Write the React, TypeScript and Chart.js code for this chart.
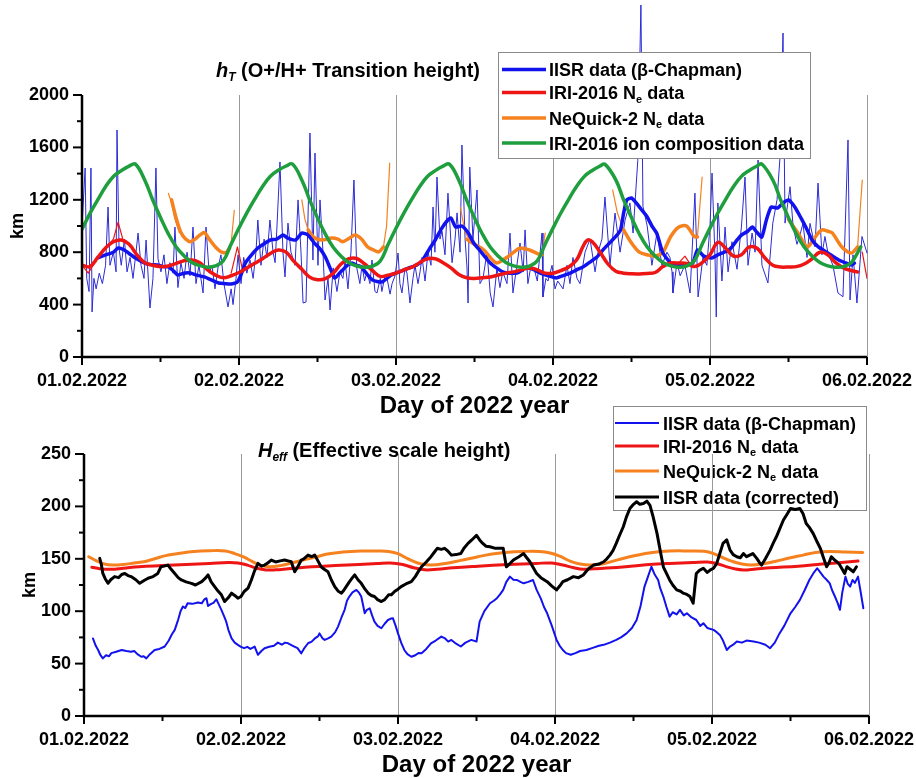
import React, { useEffect, useRef } from 'react';
import { Chart, registerables } from 'chart.js';

Chart.register(...registerables);

const FONT = '"Liberation Sans", Arial, Helvetica, sans-serif';

const dayLabels = ['01.02.2022', '02.02.2022', '03.02.2022', '04.02.2022', '05.02.2022', '06.02.2022'];

type P = [number, number | null];

// ---------- TOP PANEL: hT (km) ----------
const topIisrRaw: P[] = [
  [0.00,1000],[0.02,1443],[0.03,600],[0.045,500],[0.057,1443],[0.064,344],[0.076,600],[0.09,520],[0.11,640],[0.13,560],[0.15,700],[0.166,1145],[0.178,700],[0.20,800],[0.217,650],[0.223,1733],[0.236,830],[0.25,700],[0.27,900],[0.287,650],[0.306,760],[0.325,600],[0.344,800],[0.357,946],[0.376,700],[0.395,600],[0.408,893],[0.433,374],[0.452,600],[0.471,1443],[0.484,750],[0.503,650],[0.522,780],[0.541,560],[0.56,720],[0.58,640],[0.592,992],[0.611,530],[0.63,720],[0.65,600],[0.669,800],[0.688,620],[0.707,992],[0.726,560],[0.745,700],[0.771,489],[0.79,992],[0.81,640],[0.828,700],[0.847,520],[0.866,680],[0.885,780],[0.904,560],[0.93,382],[0.95,520],[0.962,400],[0.981,600],[0.994,780],
  [1.013,560],[1.03,760],[1.05,640],[1.07,740],[1.09,600],[1.108,800],[1.12,1046],[1.14,700],[1.16,900],[1.178,760],[1.197,1046],[1.217,800],[1.23,720],[1.242,1000],[1.261,1489],[1.28,800],[1.293,611],[1.312,1022],[1.331,800],[1.357,700],[1.376,1199],[1.395,800],[1.408,412],[1.427,420],[1.452,1710],[1.471,740],[1.484,1557],[1.503,700],[1.516,1199],[1.535,800],[1.548,435],[1.567,600],[1.58,359],[1.60,680],[1.624,500],[1.643,650],[1.662,600],[1.675,740],[1.694,520],[1.713,800],[1.732,1351],[1.75,680],[1.77,560],[1.783,700],[1.80,580],[1.815,650],[1.834,560],[1.847,740],[1.866,500],[1.879,489],[1.90,600],[1.91,500],[1.93,620],[1.943,600],[1.962,480],[1.975,560],[1.994,620],
  [2.013,794],[2.025,560],[2.038,489],[2.057,680],[2.07,640],[2.089,412],[2.108,600],[2.121,700],[2.14,560],[2.153,650],[2.166,760],[2.185,580],[2.204,800],[2.223,700],[2.236,1145],[2.248,800],[2.261,1374],[2.28,900],[2.293,960],[2.312,780],[2.331,1251],[2.344,1000],[2.357,720],[2.376,900],[2.389,1100],[2.408,800],[2.42,1618],[2.44,900],[2.452,687],[2.459,412],[2.47,1450],[2.49,900],[2.516,1275],[2.535,560],[2.554,600],[2.58,800],[2.60,489],[2.618,382],[2.643,680],[2.662,530],[2.68,650],[2.707,560],[2.726,946],[2.745,489],[2.77,700],[2.79,870],[2.81,650],[2.822,970],[2.84,560],[2.86,700],[2.885,650],[2.90,580],[2.93,946],[2.936,458],[2.955,600],[2.968,580],[2.994,700],
  [3.013,520],[3.03,580],[3.064,520],[3.089,700],[3.108,560],[3.127,760],[3.153,600],[3.172,560],[3.204,800],[3.236,900],[3.268,650],[3.287,800],[3.312,900],[3.331,1221],[3.363,700],[3.395,1099],[3.427,800],[3.459,1046],[3.49,1176],[3.51,946],[3.54,1500],[3.56,2687],[3.573,1150],[3.60,1000],[3.63,700],[3.662,946],[3.694,700],[3.726,800],[3.745,760],[3.758,650],[3.764,489],[3.79,720],[3.81,620],[3.84,700],[3.873,489],[3.904,1251],[3.924,458],[3.955,760],[3.98,700],
  [4.00,1000],[4.013,1404],[4.032,760],[4.04,305],[4.05,1176],[4.076,580],[4.096,992],[4.115,650],[4.14,880],[4.172,670],[4.20,992],[4.223,1374],[4.242,700],[4.268,946],[4.287,800],[4.306,1504],[4.331,700],[4.369,565],[4.40,1022],[4.427,1200],[4.446,1527],[4.465,2473],[4.478,1022],[4.51,1300],[4.529,1000],[4.554,860],[4.573,930],[4.592,1020],[4.618,760],[4.637,1020],[4.669,840],[4.688,1328],[4.713,780],[4.732,920],[4.752,790],[4.783,700],[4.815,489],[4.847,460],[4.879,1657],[4.892,435],[4.911,780],[4.936,412],[4.968,920],[5.00,794],
];

const topIisrSmooth: P[] = [
  [0.10,756],[0.15,779],[0.20,800],[0.23,832],[0.27,817],[0.30,790],[0.34,756],[0.40,717],[0.44,705],[0.48,702],[0.52,690],[0.55,687],[0.58,660],[0.61,626],[0.65,640],[0.69,641],[0.73,625],[0.78,611],[0.82,590],[0.87,565],[0.91,560],[0.95,557],[0.99,573],
  [1.02,650],[1.04,717],[1.08,780],[1.12,832],[1.16,865],[1.20,893],[1.24,900],[1.28,931],[1.31,908],[1.36,893],[1.40,946],[1.44,931],[1.48,870],[1.52,820],[1.55,763],[1.58,680],[1.61,603],[1.64,640],[1.66,664],[1.69,700],[1.72,717],[1.75,700],[1.78,687],[1.81,640],[1.85,588],[1.91,573],[1.97,626],
  [2.02,650],[2.08,679],[2.13,700],[2.17,740],[2.21,820],[2.25,893],[2.29,980],[2.33,1046],[2.35,1061],[2.38,992],[2.42,1000],[2.46,946],[2.50,860],[2.53,820],[2.57,760],[2.60,717],[2.64,680],[2.68,649],[2.72,640],[2.77,641],[2.80,660],[2.83,687],[2.87,670],[2.92,641],[2.97,620],
  [3.02,603],[3.06,620],[3.11,641],[3.15,665],[3.19,687],[3.23,720],[3.28,763],[3.32,820],[3.36,870],[3.40,920],[3.43,970],[3.45,1100],[3.47,1199],[3.50,1214],[3.53,1176],[3.56,1130],[3.60,1069],[3.63,1000],[3.66,946],[3.68,870],[3.70,794],[3.75,717],[3.80,702],[3.85,710],[3.89,717],[3.92,817],[3.96,770],
  [4.01,756],[4.05,780],[4.08,794],[4.11,810],[4.14,840],[4.17,890],[4.20,931],[4.24,960],[4.27,992],[4.30,950],[4.33,916],[4.36,1050],[4.39,1145],[4.43,1137],[4.47,1180],[4.50,1199],[4.54,1145],[4.58,1060],[4.61,992],[4.65,893],[4.69,840],[4.75,794],[4.82,740],[4.86,720],[4.90,702],[4.92,717],
];

const topIriNe: P[] = [
  [0.00,700],[0.05,690],[0.10,760],[0.15,832],[0.20,880],[0.25,893],[0.30,860],[0.35,780],[0.40,720],[0.45,700],[0.50,690],[0.55,695],[0.60,715],[0.65,735],[0.70,740],[0.75,720],[0.80,665],[0.85,625],[0.90,605],[0.95,620],
  [1.00,645],[1.05,680],[1.10,715],[1.15,750],[1.20,790],[1.25,817],[1.30,800],[1.35,730],[1.40,670],[1.45,610],[1.50,590],[1.55,598],[1.60,640],[1.65,710],[1.70,750],[1.75,752],[1.80,710],[1.85,660],[1.90,615],[1.95,625],
  [2.00,640],[2.05,665],[2.10,685],[2.15,720],[2.20,750],[2.25,750],[2.30,720],[2.35,680],[2.40,630],[2.45,605],[2.50,600],[2.55,605],[2.60,611],[2.65,625],[2.70,640],[2.75,650],[2.80,665],[2.85,680],[2.90,665],[2.95,640],
  [3.00,640],[3.05,660],[3.10,687],[3.15,740],[3.19,840],[3.22,893],[3.25,880],[3.30,800],[3.35,710],[3.40,655],[3.45,640],[3.50,635],[3.55,634],[3.60,638],[3.65,645],[3.70,690],[3.75,717],[3.80,717],[3.85,715],[3.90,690],[3.95,720],
  [4.00,780],[4.05,875],[4.10,830],[4.15,770],[4.20,780],[4.25,840],[4.30,830],[4.35,756],[4.40,700],[4.45,687],[4.50,687],[4.55,690],[4.60,710],[4.65,750],[4.70,800],[4.75,780],[4.80,720],[4.85,680],[4.90,660],[4.94,649],
];

const topIriNeThin: P[] = [
  [0.00,700],[0.04,640],[0.08,720],[0.15,830],[0.20,900],[0.23,1030],[0.26,900],[0.30,860],[0.31,null],
  [0.95,640],[0.99,840],[1.02,680],[1.03,null],
  [3.80,717],[3.84,770],[3.88,700],[3.89,null],
  [4.97,800],[4.985,700],[5.00,600],
];

const topNeQuick: P[] = [
  [0.57,1200],[0.60,1060],[0.63,950],[0.66,900],[0.69,880],[0.72,900],[0.75,930],[0.78,950],[0.81,900],[0.85,840],[0.89,800],[0.92,800],[0.94,830],[0.95,null],
  [1.44,970],[1.48,910],[1.53,893],[1.59,908],[1.63,900],[1.66,880],[1.70,905],[1.74,931],[1.78,900],[1.82,840],[1.86,815],[1.89,802],[1.92,840],[1.93,null],
  [2.45,900],[2.50,860],[2.56,817],[2.60,760],[2.64,717],[2.68,740],[2.71,763],[2.75,800],[2.79,832],[2.85,817],[2.90,790],[2.93,780],[2.94,null],
  [3.45,970],[3.50,870],[3.55,800],[3.60,780],[3.65,770],[3.70,800],[3.75,920],[3.80,990],[3.85,1000],[3.90,920],[3.92,916],[3.93,null],
  [4.50,1050],[4.56,946],[4.62,840],[4.66,900],[4.71,970],[4.75,960],[4.78,946],[4.84,840],[4.90,794],[4.94,840],
];

const topNeQuickThin: P[] = [
  [0.55,1250],[0.57,1180],[0.59,1060],[0.62,950],[0.625,null],
  [0.92,810],[0.95,870],[0.97,1120],[0.975,null],
  [1.40,1199],[1.42,1050],[1.44,970],[1.445,null],
  [1.92,840],[1.94,1000],[1.96,1480],[1.965,null],
  [2.41,1145],[2.44,950],[2.47,893],[2.475,null],
  [2.93,780],[2.95,946],[2.955,null],
  [3.38,1275],[3.41,1100],[3.45,970],[3.455,null],
  [3.92,916],[3.95,1374],[3.955,null],
  [4.43,1275],[4.48,1099],[4.52,1000],[4.525,null],
  [4.94,840],[4.97,1351],
];

const topIriIon: P[] = [
  [0.00,975],[0.05,1095],[0.10,1200],[0.15,1300],[0.20,1378],[0.25,1422],[0.30,1457],[0.34,1472],[0.40,1350],[0.45,1200],[0.50,1065],[0.55,940],[0.60,840],[0.65,772],[0.70,722],[0.75,697],[0.80,686],[0.85,695],[0.90,735],[0.95,862],
  [1.00,985],[1.05,1100],[1.10,1205],[1.15,1302],[1.20,1380],[1.25,1425],[1.30,1458],[1.34,1473],[1.40,1352],[1.45,1200],[1.50,1062],[1.55,938],[1.60,838],[1.65,770],[1.70,720],[1.75,695],[1.80,685],[1.85,693],[1.90,733],[1.95,860],
  [2.00,983],[2.05,1098],[2.10,1203],[2.15,1300],[2.20,1378],[2.25,1423],[2.30,1457],[2.34,1472],[2.40,1350],[2.45,1198],[2.50,1063],[2.55,939],[2.60,839],[2.65,771],[2.70,721],[2.75,696],[2.80,686],[2.85,694],[2.90,734],[2.95,861],
  [3.00,984],[3.05,1099],[3.10,1204],[3.15,1301],[3.20,1379],[3.25,1424],[3.30,1458],[3.33,1472],[3.40,1352],[3.45,1199],[3.50,1064],[3.55,939],[3.60,839],[3.65,771],[3.70,721],[3.75,696],[3.80,686],[3.85,694],[3.90,734],[3.95,861],
  [4.00,984],[4.05,1099],[4.10,1204],[4.15,1301],[4.20,1379],[4.25,1424],[4.30,1458],[4.33,1473],[4.40,1351],[4.45,1199],[4.50,1064],[4.55,939],[4.60,839],[4.65,771],[4.70,721],[4.75,696],[4.80,686],[4.85,690],[4.90,720],[4.96,840],
];

// ---------- BOTTOM PANEL: Heff (km) ----------
const botIisr: P[] = [
  [0.057,74],[0.075,67],[0.09,63],[0.105,58],[0.12,55],[0.14,58],[0.16,57],[0.174,60],[0.20,61],[0.22,62],[0.24,63],[0.27,62],[0.30,61.3],[0.32,62],[0.34,59],[0.365,56.5],[0.38,57],[0.397,55],[0.42,59],[0.45,63],[0.48,64],[0.514,66.3],[0.54,72],[0.56,78],[0.578,82.2],[0.60,92],[0.615,100],[0.63,104.5],[0.645,103],[0.66,107.6],[0.69,107],[0.726,108.3],[0.75,107.5],[0.765,111],[0.78,112.4],[0.79,105],[0.81,107],[0.825,108],[0.843,111.4],[0.86,106],[0.875,101.3],[0.89,96],[0.906,90],[0.92,82],[0.94,74],[0.96,70],[0.98,67.9],
  [1.00,66],[1.02,64.7],[1.04,66],[1.06,64],[1.087,66.3],[1.108,58.4],[1.13,62],[1.15,64.7],[1.18,66],[1.21,67],[1.235,70],[1.26,68],[1.28,70],[1.30,69.4],[1.33,67],[1.36,64.7],[1.384,59.8],[1.40,64],[1.427,69.4],[1.45,71],[1.47,74],[1.49,76],[1.50,78.8],[1.52,74],[1.533,72.6],[1.555,74],[1.575,75.8],[1.60,80],[1.618,85.3],[1.64,94],[1.66,101.3],[1.675,110],[1.69,114],[1.71,118],[1.735,120.3],[1.75,118],[1.766,114],[1.78,104],[1.788,98],[1.80,101],[1.82,102.8],[1.835,96],[1.85,90],[1.87,86],[1.894,83.7],[1.915,88],[1.936,91.6],[1.955,93],[1.968,93.2],[1.985,86],
  [2.00,78.8],[2.02,70],[2.04,63],[2.06,59],[2.085,56.5],[2.11,58],[2.13,60],[2.15,59.8],[2.18,64],[2.21,69.4],[2.24,72],[2.276,75.8],[2.30,74],[2.32,71],[2.34,72.6],[2.37,69],[2.40,66.3],[2.43,70],[2.467,72.6],[2.50,71],[2.52,90],[2.55,100],[2.586,107.6],[2.61,110],[2.63,112.4],[2.65,116],[2.67,120.3],[2.69,128],[2.713,133],[2.735,130],[2.756,129.8],[2.78,128],[2.80,126.6],[2.83,128],[2.86,129.8],[2.883,120.3],[2.91,112],[2.93,104],[2.95,98],[2.98,86],
  [3.01,72.6],[3.03,67],[3.05,63],[3.07,60],[3.10,58.4],[3.13,60],[3.16,62],[3.20,63],[3.24,65],[3.28,67],[3.31,67.9],[3.35,70],[3.39,72.6],[3.42,75],[3.456,78.8],[3.49,84],[3.52,91.6],[3.545,105],[3.57,123.5],[3.59,132],[3.614,142.4],[3.635,135],[3.657,129.8],[3.67,122],[3.69,114],[3.71,104],[3.73,94.8],[3.75,99],[3.775,97],[3.796,101.3],[3.82,96],[3.84,98],[3.87,94],[3.90,91.6],[3.925,86],[3.945,88.5],[3.97,84],
  [4.01,82.2],[4.03,80],[4.05,77.4],[4.07,72],[4.094,63],[4.115,66.3],[4.135,68],[4.158,71],[4.19,70],[4.22,72],[4.265,71],[4.30,70],[4.34,68],[4.37,64.7],[4.40,70],[4.43,78.8],[4.46,86],[4.50,98],[4.53,104],[4.56,110.8],[4.59,120],[4.62,129.8],[4.645,136],[4.67,141],[4.69,137],[4.71,133],[4.73,130],[4.75,126.6],[4.765,120],[4.783,114],[4.80,108],[4.815,101.3],[4.83,118],[4.85,133],[4.865,126],[4.88,123.5],[4.895,129.8],[4.91,127],[4.93,133],[4.945,120],[4.964,102.8],
];

const botIriNe: P[] = [
  [0.05,142],[0.10,140.5],[0.17,140],[0.25,141],[0.35,142.5],[0.50,143.5],[0.65,144.5],[0.80,145.5],[0.92,146.5],[0.98,146],[1.04,144],[1.10,141],[1.16,139.4],[1.22,139.5],[1.30,140.5],[1.45,142.4],[1.60,143.5],[1.75,144.5],[1.87,145.5],[1.95,146],[2.03,144.5],[2.10,141.5],[2.17,139.5],[2.25,140],[2.35,141.5],[2.51,143],[2.70,144.5],[2.88,145.6],[2.98,146],[3.05,144],[3.12,141.5],[3.18,140],[3.25,140.5],[3.31,141],[3.45,142.5],[3.60,144.5],[3.73,145.6],[3.88,146.5],[3.97,147],[4.03,145.5],[4.09,142.5],[4.15,140.2],[4.20,139.4],[4.28,140.3],[4.37,141.4],[4.55,143],[4.70,145],[4.79,146],[4.93,147.8],
];

const botNeQuick: P[] = [
  [0.03,152],[0.08,148],[0.13,145],[0.18,144],[0.25,144.5],[0.32,146],[0.39,147.5],[0.45,150],[0.52,153],[0.60,155],[0.70,157],[0.80,157.7],[0.90,157.5],[0.96,155],[1.02,151.5],[1.07,147.5],[1.12,144],[1.18,142.5],[1.25,143.5],[1.32,146],[1.40,149],[1.47,151.5],[1.55,154.5],[1.65,156.5],[1.77,157.4],[1.88,157.4],[1.94,157],[2.00,155],[2.05,151],[2.10,147.5],[2.15,145],[2.21,144],[2.30,145.5],[2.40,148.5],[2.51,152],[2.60,154.5],[2.70,156.3],[2.80,157],[2.90,157],[2.97,155.5],[3.03,152.5],[3.10,147.5],[3.16,145],[3.22,144],[3.30,145],[3.40,149],[3.52,153.3],[3.62,156],[3.73,157.4],[3.85,157.5],[3.95,157.2],[4.01,155],[4.07,151],[4.13,147.5],[4.19,145],[4.25,144],[4.32,145],[4.40,147.5],[4.50,151],[4.58,153.5],[4.66,156],[4.75,157],[4.85,156.5],[4.96,156],
];

const botIisrCorr: P[] = [
  [0.10,150.4],[0.11,145],[0.12,136],[0.135,131],[0.153,126.6],[0.17,130],[0.195,133],[0.22,132],[0.24,135],[0.26,136],[0.28,134],[0.30,133],[0.33,130],[0.355,126.6],[0.38,129],[0.408,131.4],[0.44,133],[0.47,136],[0.49,142.4],[0.51,143],[0.535,144],[0.555,140],[0.578,136],[0.60,132],[0.62,129.8],[0.65,128],[0.684,126.6],[0.71,125],[0.75,128.2],[0.77,131],[0.79,134.6],[0.81,128],[0.832,123.5],[0.855,119],[0.875,115.6],[0.896,109.2],[0.92,113],[0.94,117.2],[0.96,115],[0.98,112.4],
  [1.00,114],[1.02,118.8],[1.045,122],[1.066,129.8],[1.085,138],[1.108,145.6],[1.13,143],[1.15,144],[1.17,146],[1.193,148.8],[1.22,147],[1.25,148],[1.278,148.8],[1.30,148],[1.32,147.2],[1.342,137.6],[1.36,142],[1.384,148.8],[1.40,150],[1.427,153.5],[1.45,152],[1.47,153.5],[1.49,148],[1.51,142.4],[1.53,140],[1.554,137.6],[1.575,130],[1.597,123.5],[1.62,119],[1.64,117.2],[1.655,120],[1.67,123.5],[1.69,128],[1.71,132],[1.724,134.6],[1.745,130],[1.766,126.6],[1.79,121],[1.81,117.2],[1.83,115],[1.85,114],[1.87,111],[1.894,109.2],[1.915,111],[1.94,115.6],[1.957,115.6],[1.98,119],
  [2.00,121],[2.02,123.5],[2.05,126],[2.085,128.2],[2.11,133],[2.13,138],[2.15,142.4],[2.18,147],[2.21,152],[2.23,156],[2.25,160],[2.275,159],[2.297,160],[2.32,157],[2.34,153.5],[2.37,154],[2.40,155],[2.42,160],[2.446,164.7],[2.47,168],[2.50,172.5],[2.52,168],[2.54,164.7],[2.56,162],[2.586,161.5],[2.62,160],[2.67,160],[2.69,142.4],[2.71,145],[2.735,148.8],[2.77,152],[2.80,155],[2.82,151],[2.84,147.2],[2.86,142],[2.883,136],[2.91,132],[2.95,128.2],[2.98,124],
  [3.01,120.3],[3.03,124],[3.05,128.2],[3.08,130],[3.117,133],[3.15,132],[3.18,134.6],[3.21,140],[3.245,144],[3.28,145],[3.31,147.2],[3.33,150],[3.35,153.5],[3.37,158],[3.39,164.7],[3.41,172],[3.435,180.6],[3.455,190],[3.477,198],[3.50,202],[3.52,204.4],[3.54,202],[3.563,202.8],[3.585,205],[3.605,201],[3.625,190],[3.65,174],[3.67,158],[3.69,142.4],[3.71,136],[3.73,129.8],[3.75,125],[3.775,120.3],[3.80,119],[3.817,117.2],[3.84,116],[3.86,114],[3.88,107.6],[3.89,122],[3.90,136],[3.92,139],[3.945,141],[3.97,137],[3.99,139.4],
  [4.01,141],[4.03,145.6],[4.05,155],[4.07,164.7],[4.094,168],[4.115,158.3],[4.135,154],[4.158,152],[4.18,151],[4.20,155],[4.22,152],[4.24,153.5],[4.26,155],[4.285,150.4],[4.30,147],[4.316,144],[4.34,150],[4.37,158.3],[4.39,165],[4.41,171],[4.43,178],[4.455,187],[4.48,193],[4.50,198],[4.53,197],[4.56,198],[4.58,193],[4.60,183.7],[4.62,180],[4.645,174],[4.67,166],[4.69,160],[4.71,151],[4.73,142.4],[4.745,146],[4.76,152],[4.78,149],[4.795,147.2],[4.81,145],[4.826,141],[4.845,136],[4.86,142.4],[4.88,140],[4.90,137.6],[4.92,142.4],
];

// ---------- styling ----------
const C_BLUE = '#1212ee';
const C_BLUE_THIN = '#2b2bd6';
const C_RED = '#ee1515';
const C_ORANGE = '#f5821f';
const C_GREEN = '#1f9e3e';
const C_BLACK = '#000000';

type TextPart = { t: string; sub?: boolean; italic?: boolean };
type LegendItem = { color: string; width: number; parts: TextPart[] };

type DecorCfg = {
  yMajor: number;
  yMinor: number;
  title: { x: number; y: number; parts: TextPart[] };
  km: { x: number; y: number };
  xTitleY: number;
  legendBehind: boolean;
  legend: { x1: number; y1: number; x2: number; y2: number; lx1: number; lx2: number; tx: number; rows: number[]; items: LegendItem[] };
};

function drawParts(ctx: CanvasRenderingContext2D, parts: TextPart[], x: number, y: number, size: number) {
  let cx = x;
  ctx.textAlign = 'left';
  ctx.textBaseline = 'alphabetic';
  for (const p of parts) {
    const fs = p.sub ? Math.round(size * 0.62) : size;
    ctx.font = `${p.italic ? 'italic ' : ''}bold ${fs}px ${FONT}`;
    const dy = p.sub ? size * 0.22 : 0;
    ctx.fillText(p.t, cx, y + dy);
    cx += ctx.measureText(p.t).width;
  }
}

function drawLegend(ctx: CanvasRenderingContext2D, lg: DecorCfg['legend']) {
  ctx.save();
  ctx.fillStyle = '#fff';
  ctx.fillRect(lg.x1, lg.y1, lg.x2 - lg.x1, lg.y2 - lg.y1);
  ctx.strokeStyle = '#8a8a8a';
  ctx.lineWidth = 1;
  ctx.strokeRect(lg.x1 + 0.5, lg.y1 + 0.5, lg.x2 - lg.x1, lg.y2 - lg.y1);
  lg.items.forEach((it, i) => {
    const y = lg.rows[i];
    ctx.strokeStyle = it.color;
    ctx.lineWidth = it.width;
    ctx.beginPath();
    ctx.moveTo(lg.lx1, y);
    ctx.lineTo(lg.lx2, y);
    ctx.stroke();
    ctx.fillStyle = '#000';
    drawParts(ctx, it.parts, lg.tx, y + 6.5, 18);
  });
  ctx.restore();
}

function makeDecor(cfg: DecorCfg) {
  return {
    id: 'decor',
    beforeDatasetsDraw(chart: any) {
      const ctx: CanvasRenderingContext2D = chart.ctx;
      const { top, bottom } = chart.chartArea;
      const xs = chart.scales.x;
      if (cfg.legendBehind) drawLegend(ctx, cfg.legend);
      ctx.save();
      ctx.strokeStyle = '#9a9a9a';
      ctx.lineWidth = 1;
      for (let d = 1; d <= 5; d++) {
        const px = Math.round(xs.getPixelForValue(d)) + 0.5;
        ctx.beginPath();
        ctx.moveTo(px, top);
        ctx.lineTo(px, bottom);
        ctx.stroke();
      }
      ctx.restore();
    },
    afterDatasetsDraw(chart: any) {
      const ctx: CanvasRenderingContext2D = chart.ctx;
      const { left, right, top, bottom } = chart.chartArea;
      const xs = chart.scales.x;
      const ys = chart.scales.y;
      ctx.save();
      ctx.strokeStyle = '#000';
      ctx.lineWidth = 2.5;
      ctx.lineJoin = 'miter';
      ctx.beginPath();
      ctx.moveTo(left, top);
      ctx.lineTo(left, bottom);
      ctx.lineTo(right, bottom);
      ctx.stroke();
      ctx.lineWidth = 2;
      const nY = Math.round(ys.max / cfg.yMinor);
      for (let i = 0; i <= nY; i++) {
        const v = i * cfg.yMinor;
        const py = ys.getPixelForValue(v);
        const major = Math.abs(v / cfg.yMajor - Math.round(v / cfg.yMajor)) < 1e-6;
        const len = major ? 9 : 5;
        ctx.beginPath();
        ctx.moveTo(left - len, py);
        ctx.lineTo(left, py);
        ctx.stroke();
      }
      for (let i = 0; i <= 10; i++) {
        const v = i * 0.5;
        const px = xs.getPixelForValue(v);
        const len = i % 2 === 0 ? 8 : 5;
        ctx.beginPath();
        ctx.moveTo(px, bottom);
        ctx.lineTo(px, bottom + len);
        ctx.stroke();
      }
      ctx.fillStyle = '#000';
      drawParts(ctx, cfg.title.parts, cfg.title.x, cfg.title.y, 20);
      ctx.font = `bold 24px ${FONT}`;
      ctx.textAlign = 'center';
      ctx.textBaseline = 'alphabetic';
      ctx.fillText('Day of 2022 year', (left + right) / 2, cfg.xTitleY);
      ctx.save();
      ctx.translate(cfg.km.x, cfg.km.y);
      ctx.rotate(-Math.PI / 2);
      ctx.font = `bold 18px ${FONT}`;
      ctx.textAlign = 'center';
      ctx.textBaseline = 'alphabetic';
      ctx.fillText('km', 0, 0);
      ctx.restore();
      ctx.restore();
      if (!cfg.legendBehind) drawLegend(ctx, cfg.legend);
    },
  };
}

const toXY = (arr: P[]) => arr.map(([x, y]) => ({ x, y }));

function line(data: P[], color: string, width: number, tension: number, extra: any = {}) {
  return {
    data: toXY(data),
    borderColor: color,
    backgroundColor: color,
    borderWidth: width,
    pointRadius: 0,
    tension,
    fill: false,
    spanGaps: false,
    borderJoinStyle: 'round',
    borderCapStyle: 'round',
    ...extra,
  };
}

function baseOptions(yMax: number, yStep: number, yWidth: number, xHeight: number, padTop: number, padRight: number) {
  const tickFont = { family: FONT, size: 18, weight: 'bold' as const };
  return {
    animation: false,
    responsive: false,
    devicePixelRatio: 1,
    layout: { padding: { left: 0, top: padTop, right: padRight, bottom: 0 } },
    plugins: { legend: { display: false }, tooltip: { enabled: false }, title: { display: false } },
    events: [],
    scales: {
      x: {
        type: 'linear',
        min: 0,
        max: 5,
        afterFit: (s: any) => { s.height = xHeight; s.paddingLeft = 0; s.paddingRight = 0; },
        grid: { display: false, drawTicks: false },
        border: { display: false },
        ticks: {
          stepSize: 1,
          autoSkip: false,
          maxRotation: 0,
          minRotation: 0,
          padding: 13,
          color: '#000',
          font: tickFont,
          callback: (v: any) => dayLabels[Math.round(Number(v))] ?? '',
        },
      },
      y: {
        type: 'linear',
        min: 0,
        max: yMax,
        afterFit: (s: any) => { s.width = yWidth; s.paddingTop = 0; s.paddingBottom = 0; },
        grid: { display: false, drawTicks: false },
        border: { display: false },
        ticks: {
          stepSize: yStep,
          padding: 13,
          color: '#000',
          font: tickFont,
          callback: (v: any) => String(v),
        },
      },
    },
  };
}

const neParts = (name: string): TextPart[] => [{ t: name + ' N' }, { t: 'e', sub: true }, { t: ' data' }];

export default function App() {
  const topRef = useRef<HTMLCanvasElement>(null);
  const botRef = useRef<HTMLCanvasElement>(null);

  useEffect(() => {
    const topDecor = makeDecor({
      yMajor: 400,
      yMinor: 200,
      title: { x: 216, y: 77, parts: [{ t: 'h', italic: true }, { t: 'T', italic: true, sub: true }, { t: ' (O+/H+ Transition height)' }] },
      km: { x: 23, y: 226 },
      xTitleY: 413,
      legendBehind: false,
      legend: {
        x1: 498, y1: 52, x2: 810, y2: 158, lx1: 502, lx2: 546, tx: 549,
        rows: [69.5, 92.5, 118, 143],
        items: [
          { color: C_BLUE, width: 3.5, parts: [{ t: 'IISR data (β-Chapman)' }] },
          { color: C_RED, width: 3.5, parts: neParts('IRI-2016') },
          { color: C_ORANGE, width: 3.5, parts: neParts('NeQuick-2') },
          { color: C_GREEN, width: 3.5, parts: [{ t: 'IRI-2016 ion composition data' }] },
        ],
      },
    });

    const c1 = new Chart(topRef.current as HTMLCanvasElement, {
      type: 'line',
      data: {
        datasets: [
          line(topIriIon, C_GREEN, 3.5, 0.4),
          line(topIriNe, C_RED, 3.5, 0.4),
          line(topIisrSmooth, C_BLUE, 3.5, 0.2),
          line(topNeQuick, C_ORANGE, 3.5, 0.3),
          line(topNeQuickThin, C_ORANGE, 1.2, 0),
          line(topIriNeThin, C_RED, 1.2, 0),
          line(topIisrRaw, C_BLUE_THIN, 1, 0, { clip: false }),
        ] as any,
      },
      options: baseOptions(2000, 400, 82, 63, 95, 49) as any,
      plugins: [topDecor as any],
    });

    const botDecor = makeDecor({
      yMajor: 50,
      yMinor: 25,
      title: { x: 258, y: 67, parts: [{ t: 'H', italic: true }, { t: 'eff', italic: true, sub: true }, { t: ' (Effective scale height)' }] },
      km: { x: 35, y: 195 },
      xTitleY: 382,
      legendBehind: true,
      legend: {
        x1: 613, y1: 16, x2: 866, y2: 120, lx1: 615, lx2: 659, tx: 663,
        rows: [33, 56, 81, 107],
        items: [
          { color: C_BLUE, width: 2, parts: [{ t: 'IISR data (β-Chapman)' }] },
          { color: C_RED, width: 3, parts: neParts('IRI-2016') },
          { color: C_ORANGE, width: 3, parts: neParts('NeQuick-2') },
          { color: C_BLACK, width: 3, parts: [{ t: 'IISR data (corrected)' }] },
        ],
      },
    });

    const c2 = new Chart(botRef.current as HTMLCanvasElement, {
      type: 'line',
      data: {
        datasets: [
          line(botIisrCorr, C_BLACK, 3, 0),
          line(botIriNe, C_RED, 3, 0.4),
          line(botNeQuick, C_ORANGE, 3, 0.4),
          line(botIisr, C_BLUE, 2, 0),
        ] as any,
      },
      options: baseOptions(250, 50, 84, 62, 64, 47) as any,
      plugins: [botDecor as any],
    });

    return () => {
      c1.destroy();
      c2.destroy();
    };
  }, []);

  return (
    <div style={{ position: 'absolute', left: 0, top: 0, width: 916, height: 778, background: '#fff', overflow: 'hidden' }}>
      <canvas
        ref={topRef}
        width={916}
        height={420}
        style={{ position: 'absolute', left: 0, top: 0, width: 916, height: 420, zIndex: 1 }}
      />
      <canvas
        ref={botRef}
        width={916}
        height={388}
        style={{ position: 'absolute', left: 0, top: 390, width: 916, height: 388, zIndex: 2 }}
      />
    </div>
  );
}
